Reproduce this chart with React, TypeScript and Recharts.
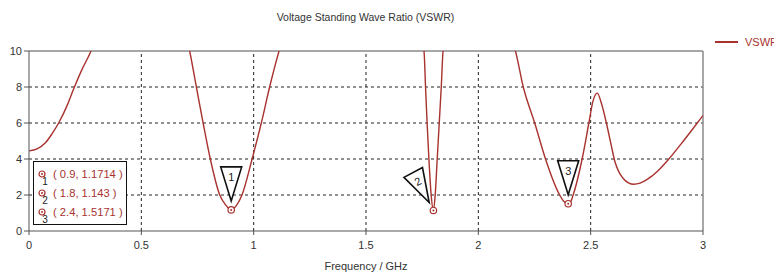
import React from 'react';
import { LineChart, Line, XAxis, YAxis, ReferenceLine, Scatter, Legend } from 'recharts';

const freq = [0, 0.036, 0.073, 0.102, 0.132, 0.169, 0.199, 0.235, 0.276, 0.33, 0.45, 0.55, 0.65, 0.715, 0.745, 0.775, 0.807, 0.849, 0.875, 0.9, 0.925, 0.948, 0.993, 1.034, 1.071, 1.113, 1.2, 1.4, 1.6, 1.7, 1.758, 1.765, 1.772, 1.78, 1.79, 1.8, 1.808, 1.817, 1.826, 1.835, 1.843, 1.9, 2.05, 2.13, 2.165, 2.2, 2.251, 2.299, 2.362, 2.38, 2.4, 2.41, 2.422, 2.462, 2.492, 2.51, 2.529, 2.55, 2.57, 2.59, 2.608, 2.625, 2.645, 2.668, 2.692, 2.72, 2.75, 2.8, 2.848, 2.9, 2.95, 3.0];
const vswr = [4.45, 4.56, 4.9, 5.39, 6.0, 6.95, 7.9, 8.95, 10.0, 12, 16, 16, 12.5, 10, 8, 6, 4, 2, 1.45, 1.1714, 1.45, 2, 4, 6, 8, 10, 13, 16, 14, 11.5, 10, 8, 6, 4, 2, 1.143, 2, 4, 6, 8, 10, 13, 13, 11, 10, 8, 6, 4, 2, 1.65, 1.5171, 1.6, 2, 4, 6, 7.2, 7.66, 7.0, 6, 4.85, 3.85, 3.3, 2.92, 2.68, 2.6, 2.66, 2.85, 3.35, 4.0, 4.8, 5.6, 6.42];

const markerFreq = [0.9, 1.8, 2.4];
const markerVswr = [1.1714, 1.143, 1.5171];
const markerLabels = ['1', '2', '3'];
const markerText = ['( 0.9, 1.1714 )', '( 1.8, 1.143 )', '( 2.4, 1.5171 )'];

const xTicks = [0, 0.5, 1, 1.5, 2, 2.5, 3];
const yTicks = [0, 2, 4, 6, 8, 10];
const seriesName = 'VSWR1';
const title = 'Voltage Standing Wave Ratio (VSWR)';
const xLabel = 'Frequency / GHz';

const curveData = freq.map((f, i) => ({ f, v: vswr[i] }));
const markerData = markerFreq.map((f, i) => ({ f, m: markerVswr[i], label: markerLabels[i] }));

const markerAngles: Record<string, number> = { '1': 0, '2': -28, '3': 0 };

const RED = '#a8322e';
const FONT = '"Liberation Sans", Arial, sans-serif';

const MarkerShape = (props: any) => {
  const { cx, cy, payload } = props;
  if (cx == null || cy == null) return null;
  const ang = markerAngles[payload.label] ?? 0;
  return (
    <g>
      <g transform={`translate(${cx},${cy}) rotate(${ang})`}>
        <polygon points="0,-9 -10.5,-43 10.5,-43" fill="#fff" stroke="#111" strokeWidth={1.6} strokeLinejoin="miter" />
        <text x={0} y={-29} textAnchor="middle" fontSize={11} fontFamily={FONT} fill="#222">{payload.label}</text>
      </g>
      <circle cx={cx} cy={cy} r={3.2} fill="#fff" stroke={RED} strokeWidth={1.2} />
      <circle cx={cx} cy={cy} r={1} fill={RED} />
    </g>
  );
};

const LegendContent = () => (
  <svg width={80} height={16} style={{ overflow: 'visible' }}>
    <line x1={1} y1={8} x2={24} y2={8} stroke={RED} strokeWidth={2} />
    <text x={31} y={12} fontSize={11} fontFamily={FONT} fill={RED}>{seriesName}</text>
  </svg>
);

export default function App() {
  return (
    <div style={{ position: 'absolute', left: 0, top: 0, width: 774, height: 273, background: '#fff', overflow: 'hidden' }}>
      <LineChart width={774} height={273} data={curveData} margin={{ top: 31, right: 71, bottom: 0, left: 0 }}>
        {xTicks.slice(1, -1).map((t) => (
          <ReferenceLine key={'x' + t} x={t} stroke="#222" strokeDasharray="3 3" strokeWidth={1} />
        ))}
        {yTicks.slice(1, -1).map((t) => (
          <ReferenceLine key={'y' + t} y={t} stroke="#222" strokeDasharray="3 3" strokeWidth={1} />
        ))}
        <ReferenceLine y={10} stroke="#8a8a8a" strokeWidth={1.5} />
        <ReferenceLine x={3} stroke="#8a8a8a" strokeWidth={1.5} />
        <XAxis
          dataKey="f"
          type="number"
          domain={[0, 3]}
          ticks={xTicks}
          allowDataOverflow
          height={42}
          stroke="#555"
          tickSize={4}
          tickMargin={6}
          tick={{ fontSize: 11, fontFamily: FONT, fill: '#333' }}
          label={{ value: xLabel, position: 'insideBottom', offset: 3, fontSize: 11, fontFamily: FONT, fill: '#333' }}
        />
        <YAxis
          type="number"
          domain={[0, 10]}
          ticks={yTicks}
          allowDataOverflow
          width={29}
          stroke="#555"
          tickSize={5}
          tickMargin={2}
          tick={{ fontSize: 11, fontFamily: FONT, fill: '#333' }}
        />
        <Legend
          verticalAlign="top"
          align="right"
          content={<LegendContent />}
          wrapperStyle={{ position: 'absolute', left: 714, top: 34, width: 80 }}
        />
        <Line
          dataKey="v"
          name={seriesName}
          type="monotone"
          stroke={RED}
          strokeWidth={1.4}
          dot={false}
          activeDot={false}
          isAnimationActive={false}
        />
        <Scatter
          data={markerData}
          dataKey="m"
          legendType="none"
          shape={<MarkerShape />}
          isAnimationActive={false}
        />
      </LineChart>
      <div style={{ position: 'absolute', left: 0, width: 731, top: 11, textAlign: 'center', fontSize: 10.5, fontFamily: FONT, color: '#333' }}>
        {title}
      </div>
      <div style={{ position: 'absolute', left: 33, top: 161, width: 92, height: 62, border: '1.5px solid #111', background: '#fff', fontFamily: FONT }}>
        {markerText.map((t, i) => (
          <div key={i} style={{ position: 'absolute', left: 0, top: 5 + i * 19, height: 19, width: 92 }}>
            <svg width={14} height={19} style={{ position: 'absolute', left: 2, top: 0 }}>
              <circle cx={6} cy={7} r={3} fill="#fff" stroke={RED} strokeWidth={1.2} />
              <circle cx={6} cy={7} r={1} fill={RED} />
              <text x={9} y={18} fontSize={10} fontFamily={FONT} fill="#222" textAnchor="middle">{markerLabels[i]}</text>
            </svg>
            <span style={{ position: 'absolute', left: 19, top: 1, fontSize: 11.2, color: RED, whiteSpace: 'nowrap' }}>{t}</span>
          </div>
        ))}
      </div>
    </div>
  );
}
